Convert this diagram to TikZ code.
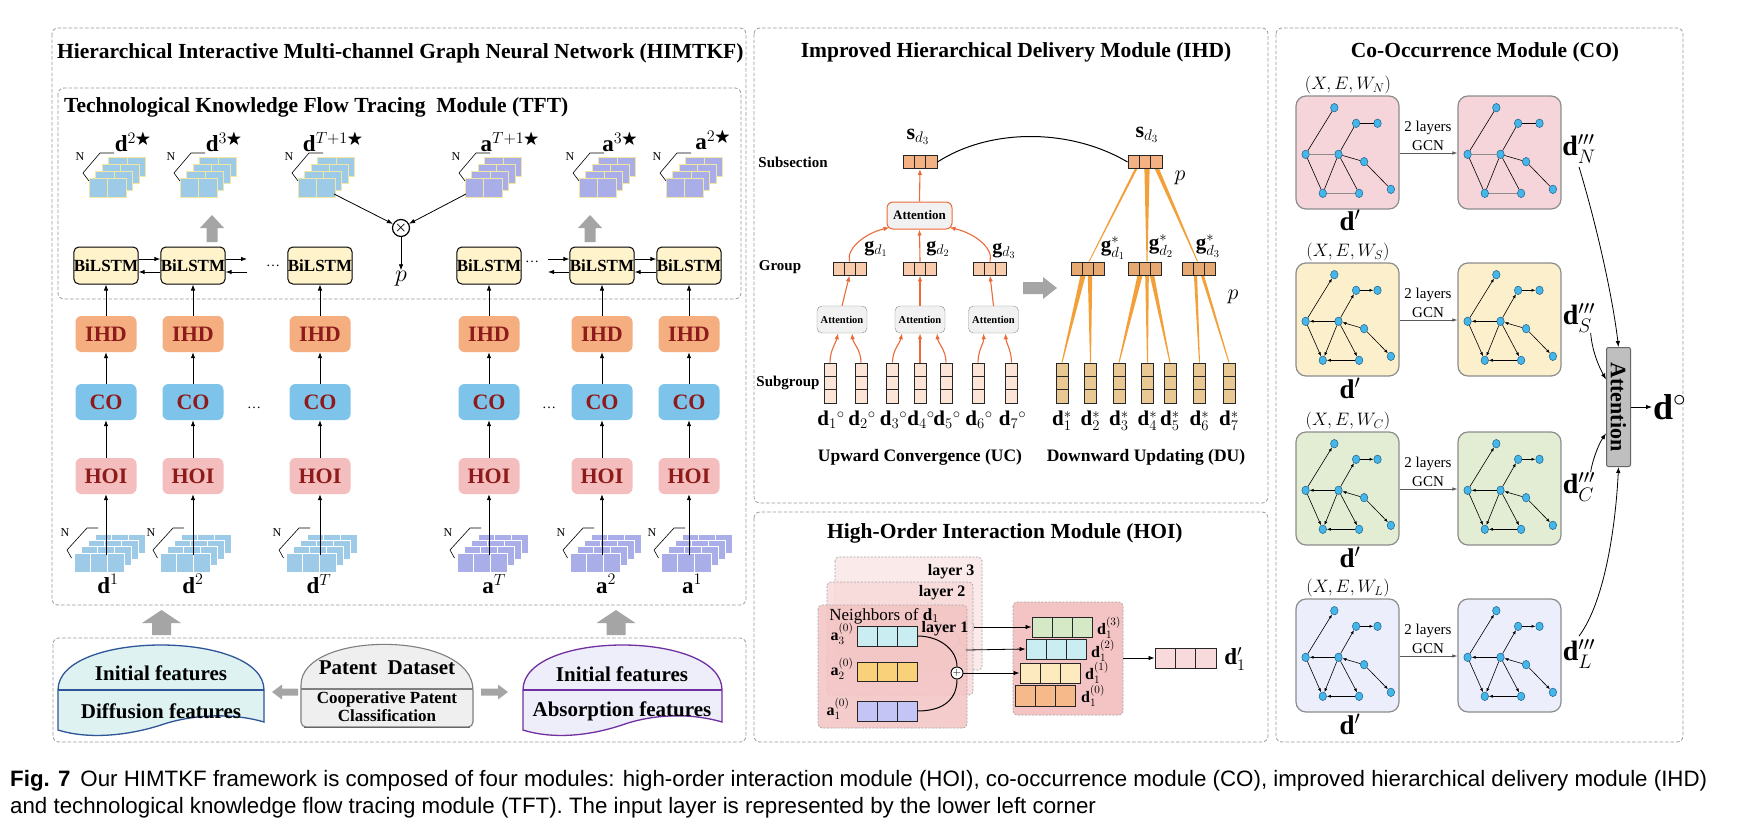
\RequirePackage{fix-cm}
\documentclass[tikz,border=0pt]{standalone}
\usepackage{amsmath,amssymb}
\usepackage{fontspec}
\setmainfont{Liberation Serif}
\setsansfont{Liberation Sans}
\usetikzlibrary{arrows.meta,calc,shapes.geometric}
\newcommand{\myfs}[1]{\fontsize{#1}{#1}\selectfont}
\definecolor{boxgray}{HTML}{9A9A9A}
\definecolor{cardblue}{HTML}{9CCAE7}
\definecolor{cardpurple}{HTML}{A9AEE8}
\definecolor{cardedge}{HTML}{F1E7A2}
\definecolor{lstmfill}{HTML}{FFF3CC}
\definecolor{ihdfill}{HTML}{F4AE80}
\definecolor{cofill}{HTML}{7EC4EA}
\definecolor{hoifill}{HTML}{F5BEBE}
\definecolor{modtext}{HTML}{8E1B1B}
\definecolor{garrow}{HTML}{A5A5A5}
\definecolor{oline}{HTML}{EC6A3A}
\definecolor{wedgec}{HTML}{F3A03A}
\definecolor{sfill}{HTML}{F4B183}
\definecolor{gfill}{HTML}{F8CBAD}
\definecolor{subfill}{HTML}{FCE4D6}
\definecolor{gsfill}{HTML}{E6A972}
\definecolor{dsfill}{HTML}{E9C893}
\definecolor{attfill}{HTML}{F1F1F1}
\definecolor{difffill}{HTML}{DEF2F2}
\definecolor{diffedge}{HTML}{2E5597}
\definecolor{absfill}{HTML}{EEEEFB}
\definecolor{absedge}{HTML}{7030A0}
\definecolor{patfill}{HTML}{EFEFEF}
\definecolor{patedge}{HTML}{7F7F7F}
\definecolor{cN}{HTML}{F6D5DA}
\definecolor{cS}{HTML}{FCEFCB}
\definecolor{cC}{HTML}{E3EDD3}
\definecolor{cL}{HTML}{ECEEFB}
\definecolor{gbord}{HTML}{8C8C8C}
\definecolor{gnodef}{HTML}{45B6E8}
\definecolor{gnoded}{HTML}{1F5F8B}
\definecolor{lay1}{HTML}{F4C4C4}
\definecolor{lay2}{HTML}{F8DADA}
\definecolor{lay3}{HTML}{FBEAEA}
\definecolor{vcyan}{HTML}{C9EDF1}
\definecolor{vyel}{HTML}{F8D17A}
\definecolor{vpur}{HTML}{C5C5F5}
\definecolor{vgreen}{HTML}{D6E9C6}
\definecolor{vlyel}{HTML}{FDEBBF}
\definecolor{vorg}{HTML}{F5B98A}
\definecolor{vpink}{HTML}{F9DADC}
\definecolor{attgray}{HTML}{BFBFBF}
\tikzset{
  dashbox/.style={draw=boxgray, dash pattern=on 3.5pt off 2pt, rounded corners=6pt, line width=0.8pt},
  title/.style={font=\bfseries\myfs{21.5}, inner sep=0pt},
  lstm/.style={draw=black, line width=1pt, fill=lstmfill, rounded corners=5pt, minimum width=61pt, minimum height=37pt, inner sep=0pt, font=\bfseries\myfs{17}},
  modbox/.style={rounded corners=6pt, minimum width=61pt, minimum height=36pt, inner sep=0pt, font=\bfseries\myfs{22}, text=modtext},
  arr/.style={-{Latex[length=6pt,width=4.5pt]}, line width=0.8pt},
  oarr/.style={-{Latex[length=6pt,width=4.5pt]}, line width=1.1pt, draw=oline, color=oline},
  garr/.style={-{Latex[length=5pt,width=3.5pt]}, line width=0.7pt, draw=black!65, color=black!65},
  hvec/.style={draw=black!85, line width=0.9pt, inner sep=0pt, path picture={
    \foreach \ii in {1,2}{\draw[black!85, line width=0.9pt] ($(path picture bounding box.south west)!\ii/3!(path picture bounding box.south east)$) -- ($(path picture bounding box.north west)!\ii/3!(path picture bounding box.north east)$);}}},
  vvec/.style={draw=black!85, line width=0.9pt, inner sep=0pt, minimum width=12pt, minimum height=40pt, path picture={
    \foreach \ii in {1,2}{\draw[black!85, line width=0.9pt] ($(path picture bounding box.south west)!\ii/3!(path picture bounding box.north west)$) -- ($(path picture bounding box.south east)!\ii/3!(path picture bounding box.north east)$);}}},
  smatt/.style={draw=black!45, fill=attfill, rounded corners=5pt, minimum width=50pt, minimum height=27pt, inner sep=0pt, font=\bfseries\myfs{10.5}},
  gnode/.style={ellipse, draw=gnoded, fill=gnodef, line width=0.5pt, minimum width=7.5pt, minimum height=8.5pt, inner sep=0pt},
  uedge/.style={line width=0.6pt},
  uedgeg/.style={line width=1.6pt, draw=black!45},
  dedge/.style={line width=0.6pt, -{Latex[length=4pt,width=3pt]}},
  gbox/.style={draw=gbord, line width=1.2pt, rounded corners=10pt, minimum width=103pt, minimum height=113pt, inner sep=0pt},
  lbl/.style={inner sep=0pt}
}
\newcommand{\myStackTop}[3]{%
  \foreach \k in {3,2,1,0}{%
    \pgfmathsetmacro{\xa}{#1+6.5*\k}%
    \pgfmathsetmacro{\ya}{#2-7*\k}%
    \draw[draw=cardedge, line width=0.9pt, fill=#3] (\xa,\ya) rectangle ++(37,-19);
    \draw[draw=cardedge, line width=0.9pt] (\xa+18.5,\ya) -- ++(0,-19);
  }%
  \draw[line width=0.6pt] (#1+25,#2-44) -- (#1+11,#2-44) -- (#1-6,#2-24) -- (#1,#2-16);
  \node[font=\myfs{12}, inner sep=0pt] at (#1-9,#2-40) {N};
}
\newcommand{\myStackBot}[3]{%
  \foreach \k in {3,2,1,0}{%
    \pgfmathsetmacro{\xa}{#1+7*\k}%
    \pgfmathsetmacro{\ya}{#2-6.3*\k}%
    \draw[draw=white, line width=0.9pt, fill=#3] (\xa,\ya) rectangle ++(50,-19);
    \draw[draw=white, line width=0.9pt] (\xa+16.7,\ya) -- ++(0,-19) (\xa+33.3,\ya) -- ++(0,-19);
  }%
  \draw[line width=0.6pt] (#1+24,#2-44) -- (#1+13,#2-44) -- (#1-7,#2-22) -- (#1-2.5,#2-14);
  \node[font=\myfs{12}, inner sep=0pt] at (#1-9,#2-39) {N};
}
\newcommand{\myUp}[6]{%
  \fill[garrow] (#1,#2) -- (#1+#4,#2+#6) -- (#1+#5,#2+#6) -- (#1+#5,#3) -- (#1-#5,#3) -- (#1-#5,#2+#6) -- (#1-#4,#2+#6) -- cycle;}
\newcommand{\myHArr}[6]{%
  \pgfmathsetmacro{\myhb}{#2-sign(#2-#1)*#6}%
  \fill[garrow] (#1,#3-#5) -- (\myhb,#3-#5) -- (\myhb,#3-#4) -- (#2,#3) -- (\myhb,#3+#4) -- (\myhb,#3+#5) -- (#1,#3+#5) -- cycle;}
\newcommand{\myWedge}[5]{%
  \fill[wedgec] ($#1+(#2,0)+(-#5,0)$) -- ($#1+(#2,0)+(#5,0)$) -- ($#3+(#4,0)+(0.5,0)$) -- ($#3+(#4,0)+(-0.5,0)$) -- cycle;}
\newcommand{\myGraph}[5]{%
  \begin{scope}[shift={(#2,#3)}]
    \foreach \nn/\px/\py in {1/38.3/11.7, 2/60.1/27.3, 3/81.5/27.3, 4/9.6/58.3, 5/42.5/58.3, 6/68.1/65.7, 7/26.8/97.3, 8/63.1/97.3, 9/94.9/93.3}{
      \node[gnode] (#1n\nn) at (\px,\py) {};
    }
    \draw[#4] (#1n4) -- (#1n1);
    \draw[#5] (#1n5) -- (#1n4);
    \draw[#4] (#1n5) -- (#1n2);
    \draw[#4] (#1n2) -- (#1n3);
    \draw[#4] (#1n6) -- (#1n5);
    \draw[#4] (#1n6) -- (#1n9);
    \draw[#4] (#1n4) -- (#1n7);
    \draw[#4] (#1n5) -- (#1n7);
    \draw[#4] (#1n5) -- (#1n8);
    \draw[#5] (#1n8) -- (#1n7);
  \end{scope}
}
\begin{document}
\begin{tikzpicture}[x=1pt,y=-1pt]
\useasboundingbox (0,0) rectangle (1746,830);
\fill[white] (0,0) rectangle (1746,830);

% ---------- panels ----------
\draw[dashbox] (52,28) rectangle (746,605);
\draw[dashbox] (58,88) rectangle (741,299);
\draw[dashbox] (53,638) rectangle (746,742);
\draw[dashbox] (754,28) rectangle (1268,503);
\draw[dashbox] (754,512) rectangle (1268,742);
\draw[dashbox] (1276,28) rectangle (1683,742);

\node[title, anchor=west] (tHIM) at (57,53) {Hierarchical Interactive Multi-channel Graph Neural Network (HIMTKF)};
\node[title, anchor=west] (tTFT) at (64,107) {Technological Knowledge Flow Tracing\ \ Module (TFT)};
\node[title] (tIHD) at (1016,52) {Improved Hierarchical Delivery Module (IHD)};
\node[title, anchor=west] (tHOI) at (827,533) {High-Order Interaction Module (HOI)};
\node[title] (tCO) at (1485,52) {Co-Occurrence Module (CO)};

% ---------- TFT output stacks ----------
\myStackTop{89}{197}{cardblue}
\myStackTop{180}{197}{cardblue}
\myStackTop{298}{197}{cardblue}
\myStackTop{465}{197}{cardpurple}
\myStackTop{579}{197}{cardpurple}
\myStackTop{666}{197}{cardpurple}
\node[font=\myfs{23}] (o1) at (133,142) {$\mathbf{d}^{2\bigstar}$};
\node[font=\myfs{23}] (o2) at (224,142) {$\mathbf{d}^{3\bigstar}$};
\node[font=\myfs{23}] (o3) at (333,142) {$\mathbf{d}^{T+1\bigstar}$};
\node[font=\myfs{23}] (o4) at (510,142) {$\mathbf{a}^{T+1\bigstar}$};
\node[font=\myfs{23}] (o5) at (620,142) {$\mathbf{a}^{3\bigstar}$};
\node[font=\myfs{23}] (o6) at (713,140) {$\mathbf{a}^{2\bigstar}$};
\myUp{212}{215}{242}{12}{5.5}{13}
\myUp{590}{215}{242}{12}{5.5}{13}

\node[draw, circle, line width=1.2pt, minimum size=17pt, inner sep=0pt, font=\bfseries\myfs{14}] (otimes) at (401,228) {$\boldsymbol{\times}$};
\coordinate (dTo) at (334,194);
\coordinate (aTo) at (466,194);
\draw[arr] (dTo) -- (otimes);
\draw[arr] (aTo) -- (otimes);
\node[font=\myfs{24}, inner sep=1pt] (pp) at (401,279) {$p$};
\draw[arr] (otimes) -- (pp.north);

% ---------- input stacks ----------
\myStackBot{74}{572}{cardblue}
\myStackBot{160}{572}{cardblue}
\myStackBot{286}{572}{cardblue}
\myStackBot{457}{572}{cardpurple}
\myStackBot{570}{572}{cardpurple}
\myStackBot{661}{572}{cardpurple}
\node[font=\myfs{23}] (i1) at (108,584) {$\mathbf{d}^{1}$};
\node[font=\myfs{23}] (i2) at (193,584) {$\mathbf{d}^{2}$};
\node[font=\myfs{23}] (i3) at (319,584) {$\mathbf{d}^{T}$};
\node[font=\myfs{23}] (i4) at (494,584) {$\mathbf{a}^{T}$};
\node[font=\myfs{23}] (i5) at (606,584) {$\mathbf{a}^{2}$};
\node[font=\myfs{23}] (i6) at (692,584) {$\mathbf{a}^{1}$};

% ---------- columns ----------
\foreach \i/\x in {1/106,2/193,3/320,4/489,5/602,6/689}{
  \node[lstm] (bl\i) at (\x,265.5) {BiLSTM};
  \node[modbox, fill=ihdfill] (ihd\i) at (\x,334) {IHD};
  \node[modbox, fill=cofill] (co\i) at (\x,402) {CO};
  \node[modbox, fill=hoifill] (hoi\i) at (\x,476) {HOI};
  \coordinate (in\i) at (\x,555);
  \draw[arr] (in\i) -- (hoi\i);
  \draw[arr] (hoi\i) -- (co\i);
  \draw[arr] (co\i) -- (ihd\i);
  \draw[arr] (ihd\i) -- (bl\i);
}
\draw[arr] ($(bl1.east)+(0,-6.5)$) -- ($(bl2.west)+(0,-6.5)$);
\draw[arr] ($(bl2.west)+(0,6.5)$) -- ($(bl1.east)+(0,6.5)$);
\coordinate (r2o) at (247,259);
\coordinate (r2i) at (247,272);
\draw[arr] (bl2.east |- r2o) -- (r2o);
\draw[arr] (r2i) -- (bl2.east |- r2i);
\coordinate (l5o) at (548,259);
\coordinate (l5i) at (548,272);
\draw[arr] (l5o) -- (bl5.west |- l5o);
\draw[arr] (bl5.west |- l5i) -- (l5i);
\draw[arr] ($(bl5.east)+(0,-6.5)$) -- ($(bl6.west)+(0,-6.5)$);
\draw[arr] ($(bl6.west)+(0,6.5)$) -- ($(bl5.east)+(0,6.5)$);
\node[font=\myfs{14}] (dots1) at (273,266) {\dots};
\node[font=\myfs{14}] (dots2) at (532,262) {\dots};
\node[font=\myfs{14}] (dots3) at (254,408) {\dots};
\node[font=\myfs{14}] (dots4) at (549,408) {\dots};

% ---------- input layer ----------
\myUp{161.5}{610}{635}{19.5}{9.5}{13}
\myUp{616}{610}{635}{19.5}{9.5}{13}
\draw[fill=difffill, draw=diffedge, line width=1.3pt] (58,690) .. controls (58,630) and (264,630) .. (264,690) -- (264,722) .. controls (230,712) and (190,715) .. (161,725) .. controls (130,735) and (90,740) .. (58,730) -- cycle;
\draw[diffedge, line width=1.3pt] (58,690) -- (264,690);
\draw[fill=patfill, draw=patedge, line width=1.1pt] (301,690) .. controls (301,630) and (473,630) .. (473,690) [rounded corners=5pt] -- (473,727) -- (301,727) -- cycle;
\draw[patedge, line width=1.1pt] (301,689) -- (473,689);
\draw[black!60, line width=1.8pt] (304,727.5) -- (470,727.5);
\draw[fill=absfill, draw=absedge, line width=1.3pt] (523,690) .. controls (523,630) and (722,630) .. (722,690) -- (722,722) .. controls (688,712) and (650,715) .. (622,725) .. controls (592,735) and (555,740) .. (523,730) -- cycle;
\draw[absedge, line width=1.3pt] (523,690) -- (722,690);
\node[font=\bfseries\myfs{21}] (if1) at (161,673) {Initial features};
\node[font=\bfseries\myfs{21}] (df) at (161,711) {Diffusion features};
\node[font=\bfseries\myfs{21}] (pd) at (387,668) {Patent\ \ Dataset};
\node[font=\bfseries\myfs{17}, align=center, inner sep=0pt] (cpc) at (387,707) {Cooperative Patent\\[1pt]Classification};
\node[font=\bfseries\myfs{21}] (if2) at (622,674) {Initial features};
\node[font=\bfseries\myfs{21}] (af) at (622,711) {Absorption features};
\myHArr{298}{272}{692}{7.5}{3.5}{10}
\myHArr{481}{508}{692}{7.5}{3.5}{10}

% ---------- IHD ----------
\node[font=\bfseries\myfs{15}] (lsub) at (793,162) {Subsection};
\node[font=\bfseries\myfs{15}] (lgrp) at (780,267) {Group};
\node[font=\bfseries\myfs{15}] (lsg) at (788,383) {Subgroup};
\node[hvec, fill=sfill, minimum width=34pt, minimum height=13pt] (sL) at (920,162) {};
\node[hvec, fill=sfill, minimum width=34pt, minimum height=13pt] (sR) at (1145,162) {};
\node[font=\myfs{22}] (sLl) at (918,137) {$\mathbf{s}_{d_3}$};
\node[font=\myfs{22}] (sRl) at (1147,135) {$\mathbf{s}_{d_3}$};
\draw[line width=1pt] (sL.east) .. controls (990,128) and (1070,128) .. (sR.west);
\node[draw=oline, fill=attfill, rounded corners=6pt, line width=1pt, minimum width=65pt, minimum height=27pt, inner sep=0pt, font=\bfseries\myfs{13}] (attT) at (919.5,215.5) {Attention};
\draw[oarr] (attT.north) -- (sL.south);
\node[hvec, fill=gfill, minimum width=33pt, minimum height=13pt] (gd1) at (849.5,268.5) {};
\node[hvec, fill=gfill, minimum width=33pt, minimum height=13pt] (gd2) at (920,268.5) {};
\node[hvec, fill=gfill, minimum width=33pt, minimum height=13pt] (gd3) at (990,268.5) {};
\node[font=\myfs{20}] (gd1l) at (876,249) {$\mathbf{g}_{d_1}$};
\node[font=\myfs{20}] (gd2l) at (938,249) {$\mathbf{g}_{d_2}$};
\node[font=\myfs{20}] (gd3l) at (1004,251) {$\mathbf{g}_{d_3}$};
\draw[oarr] (gd1.north) .. controls (846,248) and (866,233) .. ($(attT.south west)+(3,-2)$);
\draw[oarr] (gd2.north) -- (attT.south);
\draw[oarr] (gd3.north) .. controls (994,248) and (974,233) .. ($(attT.south east)+(-3,-2)$);
\node[smatt] (att1) at (842,319.5) {Attention};
\node[smatt] (att2) at (920,319.5) {Attention};
\node[smatt] (att3) at (993.5,319.5) {Attention};
\draw[oarr] (att1.north) -- (gd1.south);
\draw[oarr] (att2.north) -- (gd2.south);
\draw[oarr] (att3.north) -- (gd3.south);
\foreach \i/\x in {1/830,2/861,3/892.5,4/920,5/946,6/978,7/1011.5}{
  \node[vvec, fill=subfill] (u\i) at (\x,383) {};
  \node[font=\myfs{21}] (ul\i) at (\x+1,420) {$\mathbf{d}_{\i}{}^{\circ}$};
}
\draw[oarr] (u1.north) .. controls (830,350) and (836,343) .. ($(att1.south)+(-4,0)$);
\draw[oarr] (u2.north) .. controls (861,350) and (853,343) .. ($(att1.south)+(10,0)$);
\draw[oarr] (u3.north) .. controls (892.5,350) and (900,343) .. ($(att2.south)+(-18,0)$);
\draw[oarr] (u4.north) -- (att2.south);
\draw[oarr] (u5.north) .. controls (946,350) and (938,343) .. ($(att2.south)+(17,0)$);
\draw[oarr] (u6.north) .. controls (978,350) and (984,343) .. ($(att3.south)+(-10,0)$);
\draw[oarr] (u7.north) .. controls (1011.5,350) and (1006,343) .. ($(att3.south)+(12,0)$);
\node[font=\bfseries\myfs{17.5}] (uc) at (920,457) {Upward Convergence (UC)};
\node[font=\bfseries\myfs{17.5}] (du) at (1146,457) {Downward Updating (DU)};
\myHArr{1023}{1057}{288}{11}{6}{14}
\node[hvec, fill=gsfill, minimum width=33pt, minimum height=13pt] (gs1) at (1088,268.5) {};
\node[hvec, fill=gsfill, minimum width=33pt, minimum height=13pt] (gs2) at (1145,268.5) {};
\node[hvec, fill=gsfill, minimum width=33pt, minimum height=13pt] (gs3) at (1198.5,268.5) {};
\node[font=\myfs{21}] (gs1l) at (1113,248) {$\mathbf{g}^*_{d_1}$};
\node[font=\myfs{21}] (gs2l) at (1161,246) {$\mathbf{g}^*_{d_2}$};
\node[font=\myfs{21}] (gs3l) at (1208,246) {$\mathbf{g}^*_{d_3}$};
\foreach \i/\x in {1/1062,2/1090.5,3/1119,4/1147.5,5/1170,6/1199.5,7/1229}{
  \node[vvec, fill=dsfill] (w\i) at (\x,383) {};
  \node[font=\myfs{21}] (wl\i) at (\x,421) {$\mathbf{d}^*_{\i}$};
}
\myWedge{(sR.south)}{-9}{(gs1.north)}{1}{1.3}
\myWedge{(sR.south)}{2}{(gs2.north)}{2}{2.6}
\myWedge{(sR.south)}{12}{(gs3.north)}{-1}{2.2}
\myWedge{(gs1.south)}{-5}{(w1.north)}{0}{2.6}
\myWedge{(gs1.south)}{2}{(w2.north)}{0}{2.2}
\myWedge{(gs2.south)}{-5}{(w3.north)}{0}{2.6}
\myWedge{(gs2.south)}{2}{(w4.north)}{0}{1.8}
\myWedge{(gs2.south)}{7}{(w5.north)}{0}{2.2}
\myWedge{(gs3.south)}{-3}{(w6.north)}{0}{1.6}
\myWedge{(gs3.south)}{4}{(w7.north)}{0}{1.6}
\node[hvec, fill=sfill, minimum width=34pt, minimum height=13pt] at (sR) {};
\node[hvec, fill=gsfill, minimum width=33pt, minimum height=13pt] at (gs1) {};
\node[hvec, fill=gsfill, minimum width=33pt, minimum height=13pt] at (gs2) {};
\node[hvec, fill=gsfill, minimum width=33pt, minimum height=13pt] at (gs3) {};
\node[font=\myfs{22}] (p1) at (1180,178) {$p$};
\node[font=\myfs{22}] (p2) at (1233,297) {$p$};

% ---------- HOI ----------
\draw[fill=lay3, draw=black!35, dash pattern=on 2pt off 1.5pt, rounded corners=4pt, line width=0.7pt] (835,557) rectangle (982,670);
\draw[black!25, line width=0.8pt] (968,627) circle (6);
\draw[black!25, line width=0.8pt] (926,602) .. controls (955,606) and (968,612) .. (968,621);
\node[font=\bfseries\myfs{16}, anchor=east] (ly3) at (978,572) {layer 3};
\draw[fill=lay2, fill opacity=0.85, draw=black!35, dash pattern=on 2pt off 1.5pt, rounded corners=4pt, line width=0.7pt] (827,582) rectangle (973,695);
\draw[black!30, line width=0.8pt] (960,650) circle (6);
\draw[black!30, line width=0.8pt] (920,618) .. controls (946,622) and (960,632) .. (960,644);
\node[font=\bfseries\myfs{16}, anchor=east] (ly2) at (969,593) {layer 2};
\draw[fill=lay1, fill opacity=0.85, draw=black!35, dash pattern=on 2pt off 1.5pt, rounded corners=4pt, line width=0.7pt] (818,605) rectangle (967,728);
\node[font=\myfs{17}] (nbr) at (884,616) {Neighbors of $\mathbf{d}_1$};
\node[font=\bfseries\myfs{16}] (ly1) at (945,629) {layer 1};
\node[hvec, fill=vcyan, minimum width=60pt, minimum height=20pt] (a3) at (887,636) {};
\node[hvec, fill=vyel, minimum width=60pt, minimum height=19pt] (a2) at (887,671.5) {};
\node[hvec, fill=vpur, minimum width=60pt, minimum height=20pt] (a1) at (887,711) {};
\node[font=\myfs{16}] (a3l) at (842,634) {$\mathbf{a}_3^{(0)}$};
\node[font=\myfs{16}] (a2l) at (842,669) {$\mathbf{a}_2^{(0)}$};
\node[font=\myfs{16}] (a1l) at (838,709) {$\mathbf{a}_1^{(0)}$};
\node[draw, circle, fill=white, line width=0.9pt, minimum size=12pt, inner sep=0pt, font=\myfs{11}] (oplus) at (957,673) {$+$};
\draw[line width=1pt] (a3.east) .. controls (940,636) and (957,650) .. (oplus.north);
\draw[line width=1pt] (a1.east) .. controls (945,711) and (957,698) .. (oplus.south);
\draw[fill=lay1, draw=black!35, dash pattern=on 2pt off 1.5pt, rounded corners=4pt, line width=0.7pt] (1013,602) rectangle (1123,715);
\node[hvec, fill=vgreen, minimum width=60pt, minimum height=20pt] (d13) at (1062,627) {};
\node[hvec, fill=vcyan, minimum width=60pt, minimum height=20pt] (d12) at (1056,649) {};
\node[hvec, fill=vlyel, minimum width=60pt, minimum height=20pt] (d11) at (1050,673) {};
\node[hvec, fill=vorg, minimum width=60pt, minimum height=21pt] (d10) at (1045,695.5) {};
\node[font=\myfs{16}] (d13l) at (1109,628) {$\mathbf{d}_1^{(3)}$};
\node[font=\myfs{16}] (d12l) at (1103,651) {$\mathbf{d}_1^{(2)}$};
\node[font=\myfs{16}] (d11l) at (1097,673) {$\mathbf{d}_1^{(1)}$};
\node[font=\myfs{16}] (d10l) at (1093,696) {$\mathbf{d}_1^{(0)}$};
\coordinate (l3o) at (974,627);
\coordinate (l2o) at (966,650);
\draw[arr] (l3o) -- (d13.west);
\draw[arr] (l2o) -- (d12.west);
\draw[arr] (oplus.east) -- (d11.west);
\node[hvec, fill=vpink, minimum width=61pt, minimum height=20pt] (d1p) at (1185.5,658) {};
\node[font=\myfs{23}] (d1pl) at (1235,659) {$\mathbf{d}_1'$};
\draw[arr] (1123,658) -- (d1p.west);

% ---------- CO ----------
\node[gbox, fill=cN] (glN) at (1347.5,152.5) {};
\node[gbox, fill=cN] (grN) at (1509.5,152.5) {};
\myGraph{lN}{1296}{96}{uedge}{uedgeg}
\myGraph{rN}{1458}{96}{uedge}{uedgeg}
\node[font=\myfs{18}] (xN) at (1348,85) {$(X, E, W_N)$};
\node[font=\myfs{27}] (dpN) at (1350,220) {$\mathbf{d}'$};
\node[font=\myfs{15}] (lyN) at (1428,128) {2 layers};
\node[font=\myfs{15}] (gcN) at (1428,146) {GCN};
\draw[garr] ($(glN.east)+(0,0.5)$) -- ($(grN.west)+(0,0.5)$);
\node[font=\myfs{28}] (dN) at (1579,149) {$\mathbf{d}'''_N$};
\foreach \r/\tp/\cl in {S/263/cS, C/432/cC, L/599/cL}{
  \begin{scope}[shift={(0,\tp)}]
    \node[gbox, fill=\cl] (gl\r) at (1347.5,56.5) {};
    \node[gbox, fill=\cl] (gr\r) at (1509.5,56.5) {};
    \myGraph{l\r}{1296}{0}{dedge}{dedge}
    \myGraph{r\r}{1458}{0}{dedge}{dedge}
    \node[font=\myfs{18}] (x\r) at (1348,-11) {$(X, E, W_{\r})$};
    \node[font=\myfs{27}] (dp\r) at (1350,125) {$\mathbf{d}'$};
    \node[font=\myfs{15}] (ly\r) at (1428,32) {2 layers};
    \node[font=\myfs{15}] (gc\r) at (1428,50) {GCN};
    \draw[garr] ($(gl\r.east)+(0,0.5)$) -- ($(gr\r.west)+(0,0.5)$);
    \node[font=\myfs{28}] (d\r) at (1579,55) {$\mathbf{d}'''_{\r}$};
  \end{scope}
}
\node[draw=black!60, fill=attgray, rounded corners=2pt, line width=1pt, minimum width=24pt, minimum height=119pt, inner sep=0pt] (att) at (1618.5,407) {};
\node[rotate=-90, font=\bfseries\myfs{22}] (attx) at (att.center) {Attention};
\node[font=\bfseries\myfs{36}, anchor=west, inner sep=1pt] (dout) at (1652,407) {$\mathbf{d}^{\circ}$};
\draw[arr] (att.east) -- (dout.west);
\draw[arr] (dN.south) .. controls (1598,230) and (1613,300) .. (att.north);
\draw[arr] ($(dS.south east)+(-8,-3)$) .. controls (1592,350) and (1598,365) .. ($(att.north west)!0.27!(att.south west)$);
\draw[arr] ($(dC.north east)+(-8,3)$) .. controls (1592,462) and (1598,445) .. ($(att.north west)!0.72!(att.south west)$);
\draw[arr] (dL.north) .. controls (1606,600) and (1616,520) .. (att.south);

% ---------- caption ----------
\node[anchor=west, font=\sffamily\myfs{22.3}, inner sep=0pt] (cap1) at (10,781) {\textbf{Fig. 7}\hspace{10pt}Our HIMTKF framework is composed of four modules: high-order interaction module (HOI), co-occurrence module (CO), improved hierarchical delivery module (IHD)};
\node[anchor=west, font=\sffamily\myfs{22.3}, inner sep=0pt] (cap2) at (10,808) {and technological knowledge flow tracing module (TFT). The input layer is represented by the lower left corner};
\end{tikzpicture}
\end{document}
